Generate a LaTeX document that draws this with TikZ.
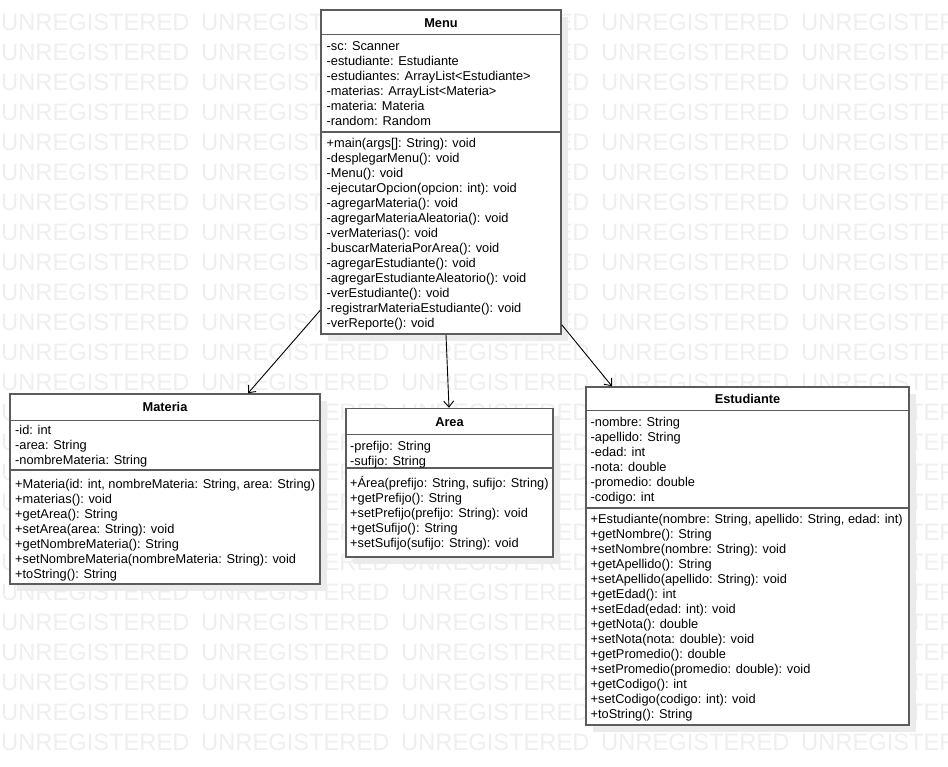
\documentclass[tikz,border=0pt]{standalone}
\usepackage{fontspec}
\setmainfont{Liberation Sans}
\usetikzlibrary{arrows.meta,calc,shadows}
\definecolor{wm}{HTML}{EFEFEF}
\definecolor{bord}{HTML}{5C5C5C}
\definecolor{shad}{HTML}{EBEBEB}
\tikzset{
 txt/.style={anchor=base west, inner sep=0pt, font=\fontsize{12.8}{15}\selectfont},
 ttl/.style={anchor=base, inner sep=0pt, font=\fontsize{12.8}{15}\selectfont\bfseries},
 cbox/.style={draw=bord, line width=1.5pt, fill=white, inner sep=0pt,
   drop shadow={shadow xshift=7pt, shadow yshift=-7pt, fill=shad, opacity=1}},
 sepline/.style={draw=bord, line width=1.5pt},
 dep/.style={draw=black, line width=0.9pt, -{Straight Barb[length=6pt,width=10pt]}},
 wmk/.style={anchor=base west, inner sep=0pt, text=wm, font=\fontsize{23.7}{24}\selectfont},
}
\newcommand\cllines[4]{%
  \foreach \t [count=\i] in {#4}
    \node[txt, name=#1\i] at (#2, {-(#3+15*(\i-1))}) {\t};
}
\begin{document}
\begin{tikzpicture}[x=1pt,y=1pt]
\useasboundingbox (0,0) rectangle (948,-766);
\fill[white] (0,0) rectangle (948,-766);
% watermark
\begin{scope}
\clip (0,0) rectangle (948,-766);
\foreach \r in {0,...,24}
  \foreach \c in {0,...,4}
    \node[wmk, name=wm-\r-\c] at ({1+200*\c}, {-(30+30*\r)}) {UNREGISTERED};
\end{scope}

% boxes
\node[cbox, minimum width=240pt, minimum height=324pt] (menu) at (441,-172) {};
\node[cbox, minimum width=310pt, minimum height=190pt] (materia) at (165,-489) {};
\node[cbox, minimum width=207pt, minimum height=148.5pt] (area) at (449.5,-482.75) {};
\node[cbox, minimum width=323pt, minimum height=338pt] (estud) at (747.5,-556) {};

% separators
\draw[sepline] ($(menu.north west)+(0,-25)$) -- ($(menu.north east)+(0,-25)$);
\draw[sepline] ($(menu.north west)+(0,-122.5)$) -- ($(menu.north east)+(0,-122.5)$);
\draw[sepline] ($(materia.north west)+(0,-27)$) -- ($(materia.north east)+(0,-27)$);
\draw[sepline] ($(materia.north west)+(0,-76.5)$) -- ($(materia.north east)+(0,-76.5)$);
\draw[sepline] ($(area.north west)+(0,-26.5)$) -- ($(area.north east)+(0,-26.5)$);
\draw[sepline] ($(area.north west)+(0,-60)$) -- ($(area.north east)+(0,-60)$);
\draw[sepline] ($(estud.north west)+(0,-24)$) -- ($(estud.north east)+(0,-24)$);
\draw[sepline] ($(estud.north west)+(0,-121.5)$) -- ($(estud.north east)+(0,-121.5)$);

% titles
\node[ttl] (menuT) at (441,-27) {Menu};
\node[ttl] (materiaT) at (165,-411) {Materia};
\node[ttl] (areaT) at (449.5,-426) {Area};
\node[ttl] (estudT) at (747.5,-403) {Estudiante};

% Menu
\cllines{menuA}{326.5}{50}{-sc: Scanner, -estudiante: Estudiante, -estudiantes: ArrayList<Estudiante>, -materias: ArrayList<Materia>, -materia: Materia, -random: Random}
\cllines{menuM}{326.5}{147}{{+main(args[]: String): void}, -desplegarMenu(): void, -Menu(): void, -ejecutarOpcion(opcion: int): void, -agregarMateria(): void, -agregarMateriaAleatoria(): void, -verMaterias(): void, -buscarMateriaPorArea(): void, -agregarEstudiante(): void, -agregarEstudianteAleatorio(): void, -verEstudiante(): void, -registrarMateriaEstudiante(): void, -verReporte(): void}

% Materia
\cllines{materiaA}{15}{434}{-id: int, -area: String, -nombreMateria: String}
\cllines{materiaM}{15}{488}{{+Materia(id: int, nombreMateria: String, area: String)}, +materias(): void, +getArea(): String, +setArea(area: String): void, +getNombreMateria(): String, +setNombreMateria(nombreMateria: String): void, +toString(): String}

% Area
\cllines{areaA}{350}{450}{-prefijo: String, -sufijo: String}
\cllines{areaM}{350}{487}{{+Área(prefijo: String, sufijo: String)}, +getPrefijo(): String, +setPrefijo(prefijo: String): void, +getSufijo(): String, +setSufijo(sufijo: String): void}

% Estudiante
\cllines{estudA}{590.5}{426}{-nombre: String, -apellido: String, -edad: int, -nota: double, -promedio: double, -codigo: int}
\cllines{estudM}{590.5}{523}{{+Estudiante(nombre: String, apellido: String, edad: int)}, +getNombre(): String, +setNombre(nombre: String): void, +getApellido(): String, +setApellido(apellido: String): void, +getEdad(): int, +setEdad(edad: int): void, +getNota(): double, +setNota(nota: double): void, +getPromedio(): double, +setPromedio(promedio: double): void, +getCodigo(): int, +setCodigo(codigo: int): void, +toString(): String}

% connectors
\draw[dep] ([yshift=24.5pt]menu.south west) -- ([xshift=83pt]materia.north);
\draw[dep] ([xshift=5pt]menu.south) -- ([xshift=-0.5pt]area.north);
\draw[dep] ([yshift=10pt]menu.south east) -- ([xshift=-135.5pt]estud.north);
\end{tikzpicture}
\end{document}
